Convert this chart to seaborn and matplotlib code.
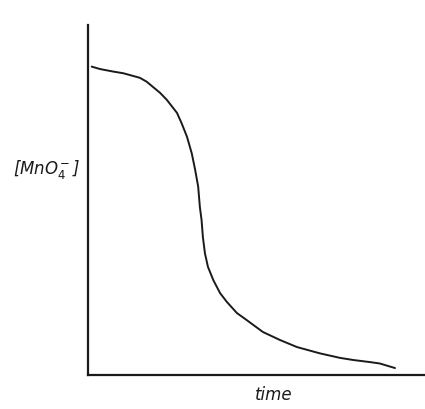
import numpy as np
import pandas as pd
import matplotlib
matplotlib.use("Agg")
import matplotlib.pyplot as plt
import seaborn as sns

# sketch of [MnO4-] against time (arbitrary units, 0-100 on both axes)
time = [1.1, 3.6, 7.4, 10.5, 15.4, 17.4, 21.4, 23.4, 26.4, 27.8, 29.4, 30.8,
        31.8, 32.7, 33.2, 33.7, 34.1, 34.7, 35.6, 37.2, 39.2, 41.2, 44.2, 47.1,
        51.9, 57.0, 62.0, 68.8, 74.8, 78.7, 83.7, 86.6, 91.1]
conc = [88.1, 87.4, 86.7, 86.2, 84.9, 83.8, 80.6, 78.6, 74.9, 71.9, 68.0, 63.3,
        58.6, 53.8, 48.0, 44.3, 39.4, 34.8, 30.9, 27.1, 23.4, 20.9, 17.7, 15.7,
        12.3, 10.0, 8.0, 6.2, 4.9, 4.3, 3.7, 3.3, 2.0]
df = pd.DataFrame({"time": time, "conc": conc})

sns.set_style("white")
fig = plt.figure(figsize=(4.25, 4.09), dpi=100)
ax = fig.add_axes([0.207, 0.083, 0.793, 0.856])
sns.lineplot(data=df, x="time", y="conc", ax=ax, color="#1a1a1a", linewidth=1.4,
             sort=False)
ax.set_xlim(0, 100); ax.set_ylim(0, 100)
ax.set_xticks([]); ax.set_yticks([])
ax.set_xlabel(""); ax.set_ylabel("")
for s in ["top", "right"]:
    ax.spines[s].set_visible(False)
for s in ["left", "bottom"]:
    ax.spines[s].set_color("#1a1a1a"); ax.spines[s].set_linewidth(1.6)

fig.text(0.11, 0.585, r"[MnO$_4^-$]", ha="center", va="center", fontsize=12,
         style="italic", color="#1a1a1a")
fig.text(0.645, 0.035, "time", ha="center", va="center", fontsize=12,
         style="italic", color="#1a1a1a")

fig.savefig("out.png", dpi=100)
